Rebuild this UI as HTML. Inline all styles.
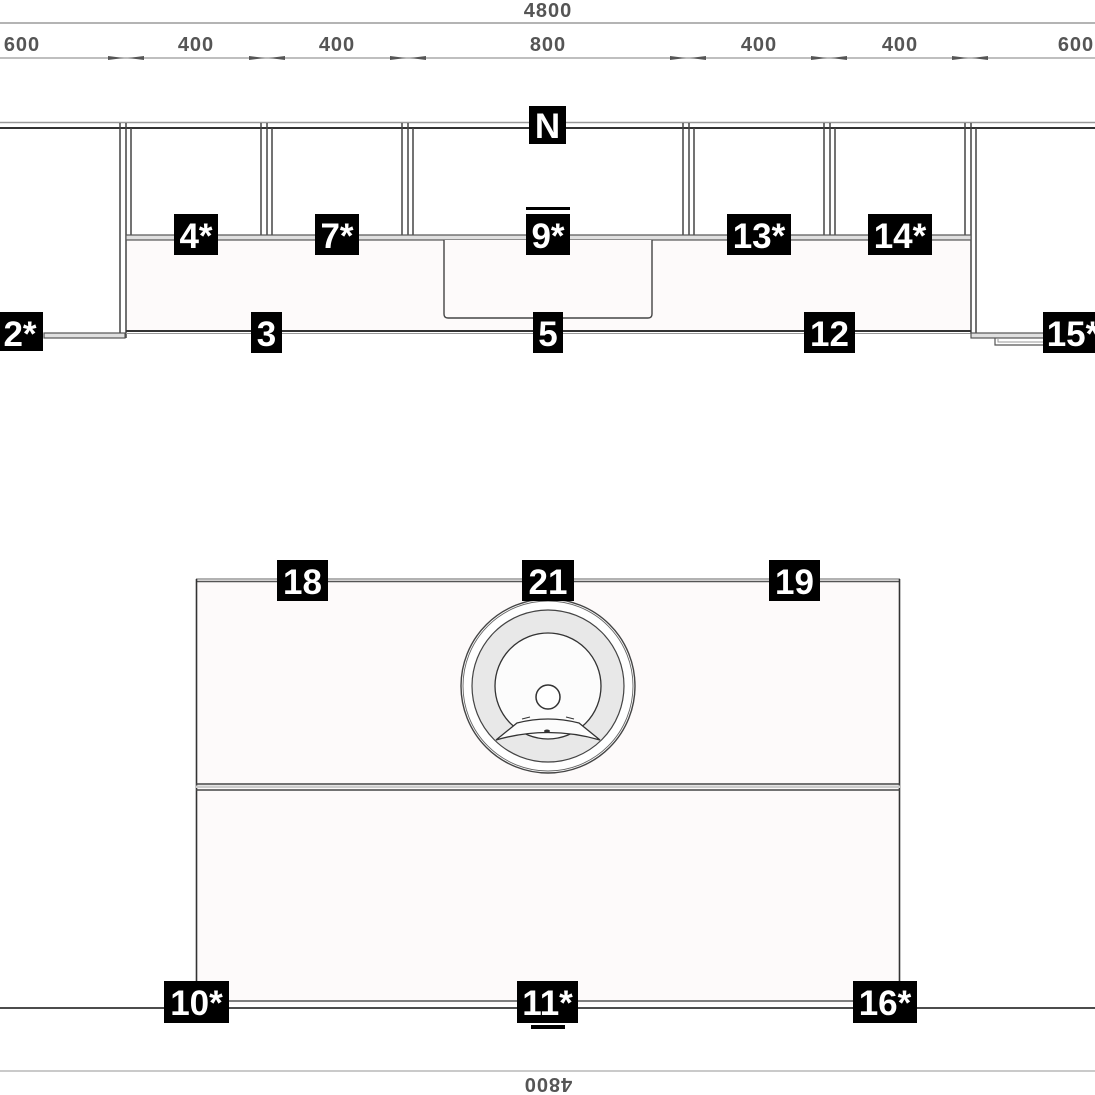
<!DOCTYPE html>
<html><head><meta charset="utf-8"><style>
html,body{margin:0;padding:0;background:#fff;}
svg{display:block;}
text{font-family:"Liberation Sans",sans-serif;}
.lbl{font-weight:bold;font-size:35px;fill:#fff;text-anchor:middle;}
.dim{font-weight:bold;font-size:20px;fill:#555;text-anchor:middle;letter-spacing:1px;}
</style></head><body>
<svg width="1095" height="1095" viewBox="0 0 1095 1095" xmlns="http://www.w3.org/2000/svg">
<line x1="0" y1="23" x2="1095" y2="23" stroke="#888" stroke-width="1.2"/>
<text class="dim" x="548" y="17">4800</text>
<line x1="0" y1="58" x2="1095" y2="58" stroke="#999" stroke-width="1.2"/>
<g fill="#555">
<polygon points="108,56 124,58 108,60"/><polygon points="144,56 128,58 144,60"/>
<polygon points="249,56 265,58 249,60"/><polygon points="285,56 269,58 285,60"/>
<polygon points="390,56 406,58 390,60"/><polygon points="426,56 410,58 426,60"/>
<polygon points="670,56 686,58 670,60"/><polygon points="706,56 690,58 706,60"/>
<polygon points="811,56 827,58 811,60"/><polygon points="847,56 831,58 847,60"/>
<polygon points="952,56 968,58 952,60"/><polygon points="988,56 972,58 988,60"/>
</g>
<text class="dim" x="22" y="51">600</text>
<text class="dim" x="196" y="51">400</text>
<text class="dim" x="337" y="51">400</text>
<text class="dim" x="548" y="51">800</text>
<text class="dim" x="759" y="51">400</text>
<text class="dim" x="900" y="51">400</text>
<text class="dim" x="1076" y="51">600</text>

<rect x="125" y="240" width="845" height="92" fill="#fdfafa"/>
<line x1="0" y1="122.5" x2="1095" y2="122.5" stroke="#999" stroke-width="1.4"/>
<line x1="0" y1="128" x2="1095" y2="128" stroke="#333" stroke-width="2"/>
<g stroke="#444" stroke-width="1.5">
<line x1="120" y1="123" x2="120" y2="333"/><line x1="126" y1="123" x2="126" y2="338"/>
<line x1="131" y1="128" x2="131" y2="235"/>
<line x1="261" y1="123" x2="261" y2="236"/><line x1="267" y1="123" x2="267" y2="240"/><line x1="272" y1="128" x2="272" y2="235"/>
<line x1="402" y1="123" x2="402" y2="236"/><line x1="408" y1="123" x2="408" y2="240"/><line x1="413" y1="128" x2="413" y2="235"/>
<line x1="683" y1="123" x2="683" y2="236"/><line x1="689" y1="123" x2="689" y2="240"/><line x1="694" y1="128" x2="694" y2="235"/>
<line x1="824" y1="123" x2="824" y2="236"/><line x1="830" y1="123" x2="830" y2="240"/><line x1="835" y1="128" x2="835" y2="235"/>
<line x1="965" y1="123" x2="965" y2="236"/><line x1="971" y1="123" x2="971" y2="333"/><line x1="976" y1="128" x2="976" y2="333"/>
</g>
<rect x="126" y="235" width="845" height="5" fill="#e0e0e0" stroke="#555" stroke-width="1.2"/>
<line x1="126" y1="331" x2="971" y2="331" stroke="#333" stroke-width="2"/>
<line x1="126" y1="333.5" x2="971" y2="333.5" stroke="#999" stroke-width="1"/>
<rect x="44" y="333" width="81" height="5" fill="#e0e0e0" stroke="#555" stroke-width="1.2"/>
<rect x="971" y="333" width="124" height="5" fill="#e0e0e0" stroke="#555" stroke-width="1.2"/>
<path d="M995,338 V345 H1045" fill="none" stroke="#555" stroke-width="1.2"/>
<path d="M998,338 V342 H1045" fill="none" stroke="#999" stroke-width="1"/>
<path d="M444,240 V314 Q444,318 448,318 H648 Q652,318 652,314 V240" fill="#fdfafa" stroke="#444" stroke-width="1.4"/>

<rect x="196" y="580" width="704" height="425" fill="#fdfafa"/>
<line x1="196" y1="579" x2="900" y2="579" stroke="#999" stroke-width="1.4"/>
<line x1="196" y1="581.5" x2="900" y2="581.5" stroke="#555" stroke-width="1.5"/>
<line x1="196.5" y1="579" x2="196.5" y2="1005" stroke="#333" stroke-width="1.6"/>
<line x1="899.5" y1="579" x2="899.5" y2="1005" stroke="#333" stroke-width="1.6"/>
<line x1="196" y1="784" x2="900" y2="784" stroke="#444" stroke-width="1.6"/>
<line x1="196" y1="790" x2="900" y2="790" stroke="#444" stroke-width="1.6"/>
<line x1="196" y1="786.8" x2="900" y2="786.8" stroke="#ccc" stroke-width="2.5"/>
<line x1="196" y1="1001" x2="900" y2="1001" stroke="#555" stroke-width="1.5"/>
<line x1="0" y1="1008" x2="1095" y2="1008" stroke="#333" stroke-width="1.8"/>

<circle cx="548" cy="686" r="87" fill="#fff" stroke="#444" stroke-width="1.4"/>
<circle cx="548" cy="686" r="85" fill="none" stroke="#666" stroke-width="0.9"/>
<circle cx="548" cy="686" r="76" fill="#e8e8e8" stroke="#444" stroke-width="1.2"/>
<circle cx="548" cy="686" r="53" fill="#fcfcfc" stroke="#333" stroke-width="1.3"/>
<path d="M496,740 L517,723 Q548,715 579,723 L600,740 Q548,725 496,740 Z" fill="#fcfcfc" stroke="#333" stroke-width="1.3"/>
<line x1="522" y1="719" x2="530" y2="717" stroke="#333" stroke-width="1"/>
<line x1="566" y1="717" x2="574" y2="719" stroke="#333" stroke-width="1"/>
<ellipse cx="547" cy="731" rx="3" ry="1.5" fill="#333"/>
<circle cx="548" cy="697" r="12" fill="#fff" stroke="#333" stroke-width="1.5"/>

<line x1="0" y1="1071" x2="1095" y2="1071" stroke="#aaa" stroke-width="1.2"/>
<text class="dim" x="0" y="0" transform="translate(548,1078) rotate(180)">4800</text>

<g>
<rect x="529" y="106" width="37" height="38" fill="#000"/><text class="lbl" x="547.5" y="138">N</text>
<rect x="174" y="214" width="44" height="41" fill="#000"/><text class="lbl" x="196" y="248">4*</text>
<rect x="315" y="214" width="44" height="41" fill="#000"/><text class="lbl" x="337" y="248">7*</text>
<rect x="526" y="207" width="44" height="3" fill="#000"/>
<rect x="526" y="214" width="44" height="41" fill="#000"/><text class="lbl" x="548" y="248">9*</text>
<rect x="727" y="214" width="64" height="41" fill="#000"/><text class="lbl" x="759" y="248">13*</text>
<rect x="868" y="214" width="64" height="41" fill="#000"/><text class="lbl" x="900" y="248">14*</text>
<rect x="0" y="312" width="43" height="39" fill="#000"/><text class="lbl" x="20" y="346">2*</text>
<rect x="251" y="312" width="31" height="41" fill="#000"/><text class="lbl" x="266.5" y="346">3</text>
<rect x="533" y="312" width="30" height="41" fill="#000"/><text class="lbl" x="548" y="346">5</text>
<rect x="804" y="312" width="51" height="41" fill="#000"/><text class="lbl" x="829.5" y="346">12</text>
<rect x="1043" y="312" width="52" height="41" fill="#000"/><text class="lbl" x="1073" y="346">15*</text>
<rect x="277" y="560" width="51" height="41" fill="#000"/><text class="lbl" x="302.5" y="594">18</text>
<rect x="522" y="560" width="52" height="41" fill="#000"/><text class="lbl" x="548" y="594">21</text>
<rect x="769" y="560" width="51" height="41" fill="#000"/><text class="lbl" x="794.5" y="594">19</text>
<rect x="164" y="981" width="65" height="42" fill="#000"/><text class="lbl" x="196.5" y="1015">10*</text>
<rect x="517" y="981" width="61" height="42" fill="#000"/><text class="lbl" x="547.5" y="1015">11*</text>
<rect x="531" y="1025" width="34" height="4" fill="#000"/>
<rect x="853" y="981" width="64" height="42" fill="#000"/><text class="lbl" x="885" y="1015">16*</text>
</g>
</svg>
</body></html>
